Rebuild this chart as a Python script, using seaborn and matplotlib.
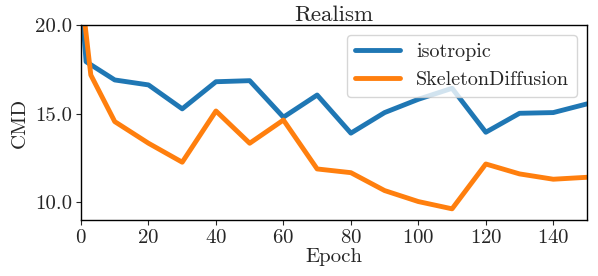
import matplotlib
matplotlib.use("Agg")
from matplotlib import pyplot as plt
import numpy as np
import pandas as pd
import seaborn as sns

# values
iso_epoch = [0, 1.5, 10, 20, 30, 40, 50, 60, 70, 80, 90, 100, 110, 120, 130, 140, 150]
iso_cmd = [21.7, 17.93, 16.9, 16.62, 15.27, 16.8, 16.86, 14.8, 16.05, 13.9,
           15.06, 15.81, 16.43, 13.95, 15.02, 15.06, 15.55]

skel_epoch = [0, 2.9, 10, 20, 30, 40, 50, 60, 70, 80, 90, 100, 110, 120, 130, 140, 150]
skel_cmd = [22.0, 17.18, 14.55, 13.33, 12.26, 15.15, 13.33, 14.64, 11.88, 11.67,
            10.66, 10.04, 9.63, 12.16, 11.6, 11.3, 11.41]

x_ticks = [0, 20, 40, 60, 80, 100, 120, 140]
y_ticks = [10.0, 15.0, 20.0]

df = pd.concat([
    pd.DataFrame({'Epoch': iso_epoch, 'CMD': iso_cmd, 'method': 'isotropic'}),
    pd.DataFrame({'Epoch': skel_epoch, 'CMD': skel_cmd, 'method': 'SkeletonDiffusion'}),
])

sns.set_style('ticks')
plt.rcParams['font.family'] = ['cmr10', 'DejaVu Serif']
plt.rcParams['mathtext.fontset'] = 'cm'
plt.rcParams['axes.formatter.use_mathtext'] = True

fig, ax = plt.subplots(figsize=(5.98, 2.76), dpi=100)
fig.subplots_adjust(left=0.1355, right=0.9816, top=0.9094, bottom=0.2029)

sns.lineplot(data=df, x='Epoch', y='CMD', hue='method',
             palette=['#1f77b4', '#ff7f0e'], linewidth=3.5, ax=ax, sort=False)

ax.set_xlim(0, 150)
ax.set_ylim(9.0, 20.0)
ax.set_xticks(x_ticks)
ax.set_yticks(y_ticks)
ax.set_yticklabels([f"{v:.1f}" for v in y_ticks])
for s in ax.spines.values():
    s.set_visible(True)
    s.set_color('black')
    s.set_linewidth(1.0)
ax.tick_params(labelsize=15, pad=3)

ax.set_title("Realism", fontsize=16.5, pad=3)
ax.set_xlabel("Epoch", fontsize=15, labelpad=1)
ax.set_ylabel("CMD", fontsize=15, labelpad=4)
ax.legend(title=None, loc='upper right', fontsize=14.5, framealpha=0.8,
          handlelength=2.2)

fig.savefig("out.png", dpi=100)
